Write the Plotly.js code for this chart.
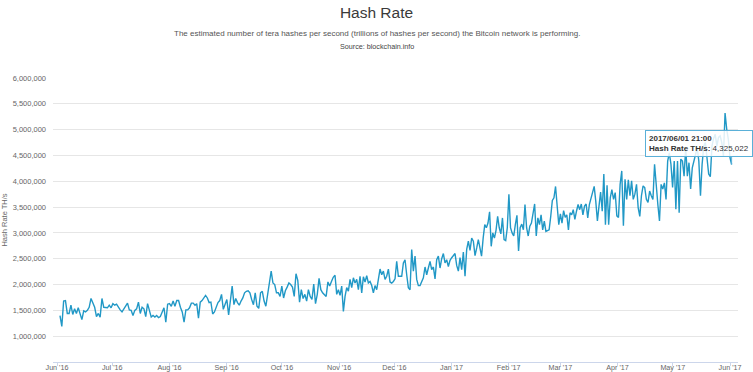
<!DOCTYPE html>
<html>
<head>
<meta charset="utf-8">
<script src="https://cdn.plot.ly/plotly-3.0.1.min.js"></script>
<style>html,body{margin:0;padding:0;background:#fff;}#chart{width:753px;height:372px;}</style>
</head>
<body>
<div id="chart"></div>
<script>
// Hash rate in millions of TH/s, in five chunks
// Each chunk: first and last timestamp of its samples (samples evenly spaced inside a chunk)
const chunkStart = ['2016-06-02 15:00', '2016-08-15 18:30', '2016-10-30 16:50', '2017-01-14 15:10', '2017-03-29 20:20'];
const chunkEnd   = ['2016-08-14 20:20', '2016-10-29 18:40', '2017-01-13 17:00', '2017-03-28 22:20', '2017-06-01 21:00'];

const hashJunAug = [1.40,1.19,1.68,1.69,1.44,1.44,1.60,1.42,1.53,1.44,1.55,1.45,1.32,1.49,1.47,1.50,1.56,1.73,1.63,1.56,1.38,1.44,1.37,1.73,1.56,1.55,1.55,1.60,1.55,1.63,1.60,1.62,1.55,1.51,1.47,1.53,1.58,1.64,1.51,1.50,1.40,1.50,1.53,1.66,1.44,1.56,1.53,1.38,1.63,1.50,1.37,1.40,1.37,1.40,1.36,1.38,1.47,1.55,1.27,1.62,1.63,1.58,1.68,1.58,1.69,1.69,1.56,1.47,1.27,1.51,1.51,1.55,1.64,1.64,1.60];
const hashAugOct = [1.63,1.35,1.66,1.69,1.73,1.79,1.74,1.65,1.66,1.43,1.47,1.58,1.65,1.69,1.81,1.52,1.60,1.71,1.41,1.65,1.97,1.61,1.73,1.65,1.60,1.68,1.74,1.84,1.87,1.88,1.84,1.71,1.61,1.84,1.58,1.54,1.84,1.87,1.68,1.58,1.82,2.03,2.26,2.03,2.00,1.84,1.84,1.77,1.97,1.74,1.88,1.95,2.03,2.00,1.95,1.77,2.21,2.08,1.66,1.90,1.73,1.81,1.68,1.90,1.77,1.71,2.01,1.63,1.81,2.12,1.90,1.84,1.81,1.77,2.05,1.97,2.06,2.14,2.18];
const hashOctJan = [1.81,1.90,1.79,1.97,1.48,1.77,1.94,1.87,2.10,1.94,2.13,2.03,2.10,1.90,2.16,1.84,2.15,2.05,2.17,2.03,2.06,1.98,1.84,1.98,1.90,2.10,2.30,2.19,2.26,2.10,2.16,2.30,2.05,2.03,2.06,2.11,2.45,2.16,2.16,2.16,2.42,2.48,2.19,1.94,1.90,2.68,2.26,2.55,2.10,1.98,1.98,2.06,2.13,2.34,2.19,2.32,2.45,2.29,2.34,2.11,2.48,2.55,2.32,2.50,2.60,2.42,2.48,2.35,2.47,2.52,2.56,2.60,2.37,2.26,2.52,2.29,2.63,2.16,2.68,2.84,2.66,2.90,2.84,2.56];
const hashJanMar = [2.71,2.87,2.71,2.55,2.90,3.16,3.10,3.19,3.41,2.74,3.00,2.90,3.05,3.32,3.10,2.98,3.29,2.87,2.85,3.10,3.75,3.10,3.00,2.94,3.16,3.34,2.65,3.10,3.17,3.06,3.55,3.10,2.94,3.13,3.19,3.42,3.56,2.94,3.29,3.16,3.35,3.06,3.23,3.03,3.05,3.06,3.32,3.63,3.68,3.90,3.52,3.16,3.37,3.19,3.43,3.30,3.35,3.06,3.39,3.35,3.45,3.26,3.42,3.55,3.45,3.56,3.35,3.52,3.56,3.29,3.55,3.68,3.75,3.90,3.61,3.23,3.52,3.79,3.42,4.14,3.16,3.92,3.16,3.68,3.84];
const hashMarJun = [3.65,3.78,3.33,3.30,3.94,4.20,3.14,4.04,3.65,4.03,3.72,4.01,3.65,3.75,3.94,3.49,3.32,3.72,3.91,3.88,3.65,3.59,3.81,3.72,3.65,4.33,3.85,3.55,3.23,3.94,3.85,3.97,3.65,4.39,4.55,4.33,3.88,4.39,3.46,4.39,3.39,4.43,4.39,4.10,4.65,4.10,4.36,3.85,4.26,4.39,4.55,4.65,4.39,3.72,4.33,4.68,4.75,4.39,4.14,4.09,4.68,4.83,4.91,4.68,4.85,4.88,4.75,4.49,5.32,5.01,4.81,4.46,4.325022];

const UNIT = 1e6;
const yTickVals = [1000000,1500000,2000000,2500000,3000000,3500000,4000000,4500000,5000000,5500000,6000000];
const yTickText = ['1,000,000','1,500,000','2,000,000','2,500,000','3,000,000','3,500,000','4,000,000','4,500,000','5,000,000','5,500,000','6,000,000'];
const xTickVals = ['2016-06-01','2016-07-01','2016-08-01','2016-09-01','2016-10-01','2016-11-01','2016-12-01','2017-01-01','2017-02-01','2017-03-01','2017-04-01','2017-05-01','2017-06-01'];
const xTickText = ["Jun '16","Jul '16","Aug '16","Sep '16","Oct '16","Nov '16","Dec '16","Jan '17","Feb '17","Mar '17","Apr '17","May '17","Jun '17"];
const tipDate = '2017/06/01 21:00';
const tipLabel = 'Hash Rate TH/s:';

const chunks = [hashJunAug, hashAugOct, hashOctJan, hashJanMar, hashMarJun];
function parseT(s){ return new Date(s.replace(' ','T') + ':00Z').getTime(); }
function fmt(ms){ return new Date(ms).toISOString().replace('T',' ').slice(0,19); }
const xs = [], ys = [];
chunks.forEach((arr, i) => {
  const a = parseT(chunkStart[i]), b = parseT(chunkEnd[i]);
  arr.forEach((v, j) => {
    xs.push(fmt(a + (b - a) * j / (arr.length - 1)));
    ys.push(v * UNIT);
  });
});
const lastX = xs[xs.length-1], lastY = ys[ys.length-1];
const lastTxt = Math.round(lastY).toLocaleString('en-US');

const font = '"Liberation Sans", Arial, sans-serif';
const tipColor = '#5ab0d8';
Plotly.newPlot('chart', [{
  x: xs, y: ys, type: 'scatter', mode: 'lines',
  line: {color: '#2198c6', width: 1.4},
  hoverinfo: 'skip'
}], {
  width: 753, height: 372,
  margin: {l: 53, r: 15, t: 78, b: 10},
  paper_bgcolor: '#fff', plot_bgcolor: '#fff',
  showlegend: false,
  font: {family: font, color: '#666'},
  title: {text: 'Hash Rate', font: {family: font, size: 15.5, color: '#3a3a3a'}, x: 0.5, xanchor: 'center', y: 0.965, yanchor: 'middle'},
  shapes: [
    // tooltip pointer down to the last point
    {type: 'line', xref: 'x', yref: 'y', ysizemode: 'pixel', yanchor: lastY,
     x0: lastX, x1: lastX, y0: 0, y1: 8, line: {color: tipColor, width: 1}}
  ],
  annotations: [
    {text: 'The estimated number of tera hashes per second (trillions of hashes per second) the Bitcoin network is performing.', xref: 'paper', yref: 'paper', x: 0.5, xshift: -19, xanchor:'center', y: 1, yshift: 45, yanchor: 'middle', showarrow: false, font: {family: font, size: 8, color: '#555'}},
    {text: 'Source: blockchain.info', xref: 'paper', yref: 'paper', x: 0.5, xshift: -19, xanchor:'center', y: 1, yshift: 32, yanchor: 'middle', showarrow: false, font: {family: font, size: 7.2, color: '#444'}},
    // tooltip box
    {text: '<b>' + tipDate + '</b><br><b>' + tipLabel + '</b> ' + lastTxt, align: 'left',
     xref: 'paper', yref: 'paper', x: 0.9985, xshift: 16, y: 0.722, showarrow: false,
     xanchor: 'right', yanchor: 'bottom',
     bgcolor: 'rgba(255,255,255,0.85)', bordercolor: tipColor, borderwidth: 1, borderpad: 3,
     font: {family: font, size: 8, color: '#333'}}
  ],
  xaxis: {
    type: 'date', range: ['2016-05-29 20:00', '2017-06-05 08:00'],
    tickvals: xTickVals, ticktext: xTickText,
    tickfont: {family: font, size: 7.2, color: '#666'},
    showgrid: false, zeroline: false,
    showline: true, linecolor: '#ccd6eb', linewidth: 1,
    ticks: 'outside', ticklen: 3, tickcolor: '#ccd6eb', ticklabelstandoff: -5
  },
  yaxis: {
    range: [500000, 6000000],
    tickvals: yTickVals, ticktext: yTickText,
    tickfont: {family: font, size: 7.5, color: '#666'},
    showgrid: true, gridcolor: '#e6e6e6', gridwidth: 1,
    zeroline: false, showline: false, ticks: '', ticklabelstandoff: 6,
    title: {text: 'Hash Rate TH/s', font: {family: font, size: 7.5, color: '#666'}, standoff: 6}
  }
}, {displayModeBar: false, staticPlot: true});
</script>
</body>
</html>
